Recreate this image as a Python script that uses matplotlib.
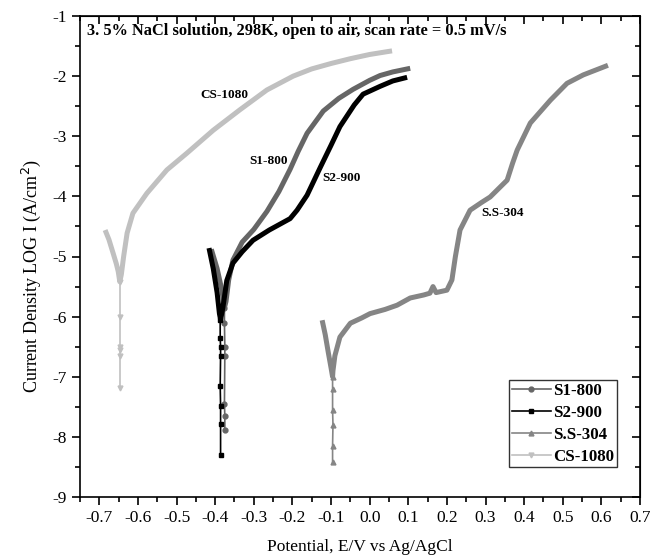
import matplotlib.pyplot as plt
from matplotlib.lines import Line2D
from matplotlib.ticker import MultipleLocator

plt.rcParams['font.family'] = ['Liberation Serif', 'DejaVu Serif']
plt.rcParams['axes.unicode_minus'] = False

# S1-800 : smooth branch (cathodic + anodic) and the noisy vertical tail
s1_x = [-0.41, -0.395, -0.383, -0.376, -0.372, -0.365, -0.354, -0.33, -0.30, -0.266, -0.235,
        -0.206, -0.185, -0.162, -0.12, -0.08, -0.043, 0.0, 0.027, 0.06, 0.105]
s1_y = [-4.88, -5.2, -5.55, -5.85, -5.75, -5.39, -5.06, -4.76, -4.55, -4.25, -3.92,
        -3.55, -3.25, -2.95, -2.58, -2.37, -2.22, -2.07, -1.99, -1.93, -1.87]
s1_tail_x = [-0.376, -0.376, -0.375, -0.375, -0.376, -0.375, -0.375]
s1_tail_y = [-5.85, -6.1, -6.5, -6.65, -7.45, -7.65, -7.89]

# S2-900
s2_x = [-0.416, -0.405, -0.395, -0.389, -0.386, -0.38, -0.37, -0.354, -0.33, -0.302, -0.26,
        -0.206, -0.188, -0.162, -0.145, -0.128, -0.10, -0.077, -0.04, -0.017, 0.027, 0.06, 0.097]
s2_y = [-4.86, -5.2, -5.6, -5.95, -6.05, -5.85, -5.4, -5.11, -4.92, -4.73, -4.56,
        -4.37, -4.23, -3.98, -3.75, -3.52, -3.15, -2.84, -2.48, -2.30, -2.17, -2.08, -2.02]
s2_tail_x = [-0.387, -0.387, -0.386, -0.386, -0.387, -0.386, -0.386, -0.386]
s2_tail_y = [-6.05, -6.35, -6.5, -6.65, -7.15, -7.48, -7.78, -8.3]

# S.S-304
ss_x = [-0.123, -0.115, -0.107, -0.10, -0.096, -0.095, -0.09, -0.077, -0.05, -0.02, 0.001,
        0.04, 0.071, 0.105, 0.14, 0.156, 0.164, 0.172, 0.2, 0.213, 0.222, 0.234, 0.26,
        0.29, 0.312, 0.356, 0.37, 0.382, 0.416, 0.468, 0.511, 0.553, 0.617]
ss_y = [-6.06, -6.3, -6.6, -6.85, -7.0, -6.9, -6.65, -6.34, -6.11, -6.02, -5.95,
        -5.88, -5.81, -5.69, -5.64, -5.61, -5.5, -5.6, -5.56, -5.39, -5.0, -4.56, -4.23,
        -4.1, -4.01, -3.73, -3.45, -3.23, -2.78, -2.40, -2.12, -1.98, -1.82]
ss_tail_x = [-0.096, -0.096, -0.096, -0.095, -0.096, -0.096]
ss_tail_y = [-7.0, -7.2, -7.55, -7.8, -8.15, -8.42]

# CS-1080
cs_x = [-0.685, -0.675, -0.664, -0.656, -0.651, -0.647, -0.643, -0.637, -0.628, -0.613,
        -0.577, -0.525, -0.473, -0.405, -0.336, -0.266, -0.198, -0.15, -0.10,
        -0.05, 0.0, 0.058]
cs_y = [-4.56, -4.72, -4.95, -5.12, -5.25, -5.42, -5.3, -5.0, -4.61, -4.28,
        -3.95, -3.56, -3.28, -2.90, -2.56, -2.23, -2.0, -1.88, -1.79,
        -1.71, -1.64, -1.58]
cs_tail_x = [-0.646, -0.646, -0.646, -0.646, -0.646, -0.646]
cs_tail_y = [-5.42, -6.0, -6.5, -6.55, -6.65, -7.19]

names = ['S1-800', 'S2-900', 'S.S-304', 'CS-1080']
colors = ['#666666', '#000000', '#858585', '#c0c0c0']
markers = ['o', 's', '^', 'v']
branches = [(s1_x, s1_y), (s2_x, s2_y), (ss_x, ss_y), (cs_x, cs_y)]
tails = [(s1_tail_x, s1_tail_y), (s2_tail_x, s2_tail_y), (ss_tail_x, ss_tail_y), (cs_tail_x, cs_tail_y)]

fig = plt.figure(figsize=(6.57, 5.58), dpi=100)
ax = fig.add_axes([80/657, 1-497/558, 560/657, 481/558])

for (bx, by), (tx, ty), c, m in zip(branches, tails, colors, markers):
    ax.plot(tx, ty, color=c, lw=1.2, marker=m, ms=3.5)
    ax.plot(bx, by, color=c, lw=3.6, solid_capstyle='butt', solid_joinstyle='round')

ax.set_xlim(-0.75, 0.7)
ax.set_ylim(-9, -1)
ax.xaxis.set_minor_locator(MultipleLocator(0.05))
ax.yaxis.set_major_locator(MultipleLocator(1))
ax.yaxis.set_minor_locator(MultipleLocator(0.5))
ax.set_xticks([x / 10 for x in range(-7, 8)])
ax.set_xticklabels(['-0.7', '-0.6', '-0.5', '-0.4', '-0.3', '-0.2', '-0.1', '0.0',
                    '0.1', '0.2', '0.3', '0.4', '0.5', '0.6', '0.7'])
ax.tick_params(which='both', direction='out', labelsize=12.5, width=1.2)
ax.tick_params(which='major', length=6)
ax.tick_params(which='minor', length=3.5)
for s in ax.spines.values():
    s.set_linewidth(1.2)

# mirrored ticks pointing in on top and right
top = ax.secondary_xaxis('top')
top.xaxis.set_major_locator(MultipleLocator(0.1))
top.xaxis.set_minor_locator(MultipleLocator(0.05))
top.tick_params(which='both', direction='in', labeltop=False, width=1.2)
top.tick_params(which='major', length=6)
top.tick_params(which='minor', length=3.5)
right = ax.secondary_yaxis('right')
right.yaxis.set_major_locator(MultipleLocator(1))
right.yaxis.set_minor_locator(MultipleLocator(0.5))
right.tick_params(which='both', direction='in', labelright=False, width=1.2)
right.tick_params(which='major', length=6)
right.tick_params(which='minor', length=3.5)

ax.set_xlabel('Potential, E/V vs Ag/AgCl', fontsize=12.5, labelpad=9)
ax.set_ylabel('Current Density LOG I (A/cm$^2$)', fontsize=13)
ax.yaxis.set_label_coords(-0.066, 0.46)

ax.text(-0.732, -1.25, '3. 5% NaCl solution, 298K, open to air, scan rate = 0.5 mV/s',
        fontsize=11.8, fontweight='bold', va='center', ha='left')
ax.text(-0.375, -2.31, 'CS-1080', fontsize=9.5, fontweight='bold', ha='center', va='center')
ax.text(-0.263, -3.41, 'S1-800', fontsize=9.5, fontweight='bold', ha='center', va='center')
ax.text(-0.072, -3.70, 'S2-900', fontsize=9.5, fontweight='bold', ha='center', va='center')
ax.text(0.345, -4.28, 'S.S-304', fontsize=9.5, fontweight='bold', ha='center', va='center')

handles = [Line2D([], [], color=c, lw=1.2, marker=m, ms=3.5) for c, m in zip(colors, markers)]
leg = ax.legend(handles, names, loc='lower right', bbox_to_anchor=(0.959, 0.062),
                prop={'weight': 'bold', 'size': 12.2}, frameon=True, fancybox=False,
                edgecolor='black', handlelength=2.3, handletextpad=0.15,
                labelspacing=0.35, borderpad=0.15, borderaxespad=0)
leg.get_frame().set_linewidth(1.0)

fig.savefig('out.png', dpi=100)
